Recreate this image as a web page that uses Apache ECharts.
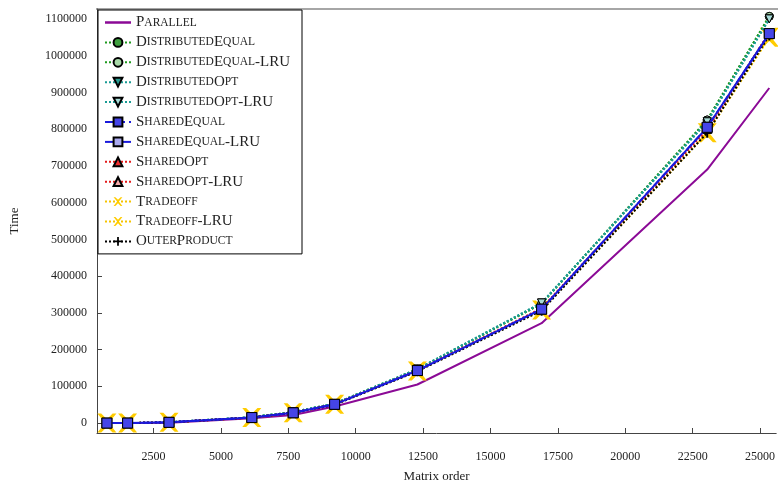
<!DOCTYPE html>
<html><head><meta charset="utf-8">
<script src="https://cdn.jsdelivr.net/npm/echarts@6/dist/echarts.min.js"></script>
<style>html,body{margin:0;padding:0;background:#fff}#c{width:778px;height:493px}</style>
</head><body><div id="c"></div>
<script>
const xs = [768,1536,3072,6144,7680,9216,12288,16896,23040,25344];
const parallel = [0,0,1000,13000,22000,45000,105000,272000,690000,912000];
const distEqual = [0,0,2000,16000,30000,53000,146000,325000,825000,1107000];
const distEqualLRU = [0,0,2000,16000,30000,53000,146000,325000,825000,1107000];
const distOpt = [0,0,2000,16000,30000,53000,147000,327000,820000,1100000];
const distOptLRU = [0,0,2000,16000,30000,53000,147000,327000,820000,1100000];
const sharedEqual = [0,0,2000,15000,28000,51000,143000,310000,805000,1060000];
const sharedEqualLRU = [0,0,2000,15000,28000,51000,143000,310000,805000,1060000];
const sharedOpt = [0,0,2000,15000,28000,51000,143000,312000,800000,1062000];
const sharedOptLRU = [0,0,2000,15000,28000,51000,143000,312000,800000,1062000];
const tradeoff = [0,0,2000,15000,28000,51000,142000,308000,790000,1050000];
const tradeoffLRU = [0,0,2000,15000,28000,51000,142000,308000,790000,1050000];
const outer = [0,0,2000,15000,28000,50000,141000,306000,790000,1055000];
const yTicks = [0,100000,200000,300000,400000,500000,600000,700000,800000,900000,1000000,1100000];
const xTicks = [2500,5000,7500,10000,12500,15000,17500,20000,22500,25000];

const X = 'path://M0,0L2,0L5,3L8,0L10,0L6,5L10,10L8,10L5,7L2,10L0,10L4,5Z';
const PLUS = 'path://M4,0L6,0L6,4L10,4L10,6L6,6L6,10L4,10L4,6L0,6L0,4L4,4Z';
const TRI = 'path://M5,0L10,10L0,10Z';
const TRID = 'path://M0,0L10,0L5,10Z';
function pts(a){return xs.map((x,i)=>[x,a[i]]);}
function s(name,data,color,lineType,symbol,fill,size,bw,z){
  return {name,type:'line',data:pts(data),smooth:false,z:z||2,
    lineStyle:{color,width:2,type:lineType},
    symbol:symbol||'none',symbolSize:size||8,showSymbol:!!symbol,
    itemStyle:{color:fill||color,borderColor:'#000',borderWidth:bw}};
}
const series=[
  s('Parallel',parallel,'#8b0a96','solid',null,null,0,0,2),
  s('DistributedEqual',distEqual,'#1f9a1f','dotted','circle','#3f9f3f',8,1,3),
  s('DistributedEqual-LRU',distEqualLRU,'#1f9a1f','dotted','circle','#a8d8a8',8,1,3),
  s('DistributedOpt',distOpt,'#1a9b94','dotted',TRID,'#2a9c92',8,1,3),
  s('DistributedOpt-LRU',distOptLRU,'#1a9b94','dotted',TRID,'#a8dcd8',8,1,3),
  s('SharedEqual',sharedEqual,'#1a1adc','dashed','rect','#4545e8',10,1,6),
  s('SharedEqual-LRU',sharedEqualLRU,'#1a1adc','solid','rect','#aaaaee',10,1,5),
  s('SharedOpt',sharedOpt,'#e41a1a','dotted',TRI,'#ee3030',8,1,3),
  s('SharedOpt-LRU',sharedOptLRU,'#e41a1a','dotted',TRI,'#f4aaaa',8,1,3),
  s('Tradeoff',tradeoff,'#f5c400','dotted',X,'#ffcc00',19,0,2),
  s('Tradeoff-LRU',tradeoffLRU,'#f5c400','dotted',X,'#ffcc00',11,0,2),
  s('OuterProduct',outer,'#000','dotted',PLUS,'#000',10,0,4)
];
function sc(n){return '{a|'+n.replace(/([A-Z])([a-z]+)/g,(m,c,r)=>c+'}{b|'+r.toUpperCase()+'}{a|')+'}';}
const F='Liberation Serif';
const chart=echarts.init(document.getElementById('c'),null,{renderer:'canvas'});
chart.setOption({
  animation:false,
  grid:{left:96,right:1,top:9,bottom:60},
  xAxis:{type:'value',min:400,max:25600,name:'Matrix order',nameLocation:'middle',nameGap:37,
    nameTextStyle:{fontFamily:F,fontSize:13,color:'#222'},
    axisLine:{show:true,onZero:false,lineStyle:{color:'#444'}},
    splitLine:{show:false},
    axisLabel:{fontFamily:F,fontSize:12,color:'#222',margin:18,hideOverlap:false,customValues:xTicks,formatter:v=>String(v)},
    axisTick:{show:true,inside:true,customValues:xTicks,lineStyle:{color:'#444'}}},
  yAxis:{type:'value',min:-27000,max:1127000,name:'Time',nameLocation:'middle',nameGap:76,
    nameTextStyle:{fontFamily:F,fontSize:13,color:'#222'},
    axisLine:{show:true,lineStyle:{color:'#444'}},splitLine:{show:false},
    axisLabel:{fontFamily:F,fontSize:12,color:'#222',margin:10,hideOverlap:false,customValues:yTicks,formatter:v=>String(v)},
    axisTick:{show:true,inside:true,customValues:yTicks,lineStyle:{color:'#444'}}},
  legend:{orient:'vertical',left:98,top:10,itemGap:4.9,itemWidth:26,itemHeight:11,
    backgroundColor:'#fff',borderColor:'#000',borderWidth:1,padding:[5,12,5,6],
    formatter:n=>sc(n),
    textStyle:{fontFamily:F,color:'#222',rich:{a:{fontFamily:F,fontSize:15,color:'#222'},b:{fontFamily:F,fontSize:11.5,color:'#222'}}},
    data:series.map((x,i)=>i===0?{name:x.name,icon:'path://M0,0L26,0L26,2.5L0,2.5Z',itemHeight:2}:x.name)},
  series
});
chart.getZr().add(new echarts.graphic.Line({shape:{x1:96,y1:9,x2:778,y2:9},style:{stroke:'#888',lineWidth:1.5}}));
</script></body></html>
